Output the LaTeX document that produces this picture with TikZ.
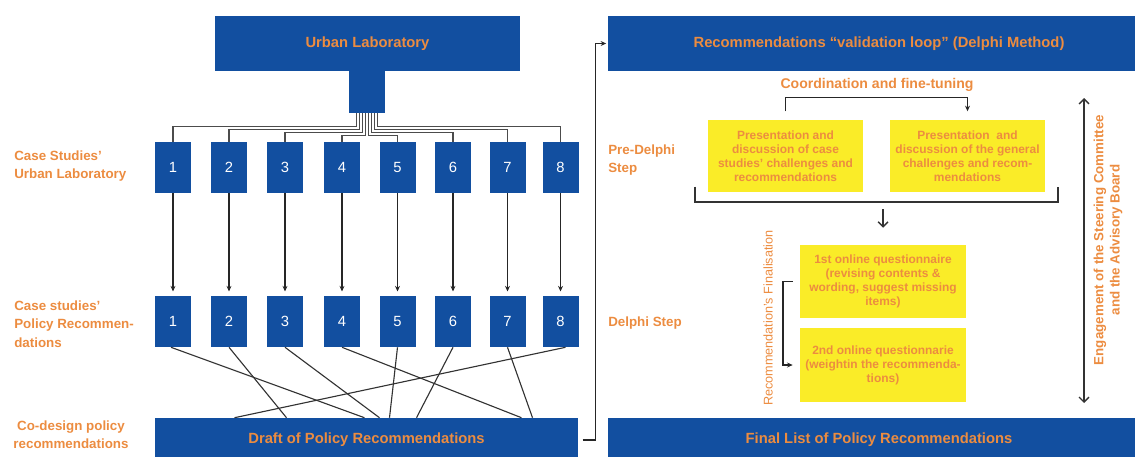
\documentclass[tikz,border=0pt]{standalone}
\usepackage{fontspec}
\setmainfont{Liberation Sans}
\usetikzlibrary{arrows.meta,calc}
\definecolor{ublue}{RGB}{18,79,160}
\definecolor{uorange}{RGB}{236,140,64}
\definecolor{uyellow}{RGB}{250,236,40}
\tikzset{
  bluebox/.style={fill=ublue, inner sep=0pt, text=uorange, font=\bfseries\fontsize{10.5}{12}\selectfont},
  numbox/.style={fill=ublue, inner sep=0pt, minimum width=0.9cm, minimum height=1.275cm, text=white, font=\fontsize{10.5}{12}\selectfont},
  notebox/.style={fill=uyellow, inner sep=0pt, align=center, text=uorange, font=\bfseries\fontsize{8.5}{10}\selectfont},
  rowlbl/.style={anchor=west, align=left, inner sep=0pt, text=uorange, font=\bfseries\fontsize{9.5}{13}\selectfont},
  link/.style={draw=black!80, line width=1pt},
  fan/.style={draw=black!70, line width=0.8pt},
  arr/.style={-{Stealth[length=4pt,width=3.5pt]}, draw=black!85, line width=1pt},
  open/.style={-{Straight Barb[length=3.5pt,width=7pt]}, draw=black!80, line width=1pt},
  both/.style={{Straight Barb[length=3.5pt,width=7pt]}-{Straight Barb[length=3.5pt,width=7pt]}, draw=black!80, line width=1pt},
}

\begin{document}
\begin{tikzpicture}[x=0.025cm, y=-0.025cm]
\useasboundingbox (0,0) rectangle (1135,456);

% --- urban laboratory + case studies ---
\node[bluebox, minimum width=7.625cm, minimum height=1.375cm] (lab) at (367.5,43.5) {Urban Laboratory};
\node[bluebox, minimum width=0.9cm, minimum height=1.05cm] (stem) at (367,92) {};

\foreach \i/\x in {1/173, 2/229, 3/285, 4/342, 5/397.5, 6/453, 7/507.5, 8/560.5} {
  \node[numbox] (u\i) at (\x,167.5) {\i};
  \node[numbox] (p\i) at (\x,321.5) {\i};
  \draw[arr, shorten >=3pt] (u\i) -- (p\i);
}

% bundle of lines out of the stem
\foreach \i/\o/\d in {1/-10.5/13, 2/-7.5/16, 3/-4.5/19, 4/-1.5/22, 5/1.5/22, 6/4.5/19, 7/7.5/16, 8/10.5/13}
  \draw[fan] ($(stem.south)+(\o,0)$) -- ++(0,\d) -| (u\i.north);

\node[bluebox, minimum width=10.575cm, minimum height=1.1cm] (draft) at (366.5,440) {Draft of Policy Recommendations};

% every case feeds the common draft
\foreach \i/\s/\e in {1/-2/-2, 2/0/-80, 3/0/13, 4/0/155, 5/0/23, 6/0/50, 7/0/166, 8/5/-132}
  \draw[link, line width=0.8pt] ($(p\i.south)+(\s,0)$) -- ($(draft.north)+(\e,0)$);

\node[rowlbl] (lblu) at (14,166) {Case Studies'\\Urban Laboratory};
\node[rowlbl] (lblp) at (14,324) {Case studies'\\Policy Recommen-\\dations};
\node[rowlbl, anchor=center, align=center] (lblc) at (71,435) {Co-design policy\\recommendations};

% --- delphi validation loop ---
\node[bluebox, minimum width=13.55cm, minimum height=1.375cm] (valid) at (879,43.5) {Recommendations ``validation loop'' (Delphi Method)};
\node[bluebox, minimum width=13.55cm, minimum height=1.1cm] (final) at (879,440) {Final List of Policy Recommendations};

\draw[arr, shorten >=1pt] ([xshift=3pt]draft.east) -- ++(9pt,0) |- (valid.west);

\node[rowlbl] (pre) at (608,160) {Pre-Delphi\\Step};
\node[rowlbl] (dstep) at (608,323) {Delphi Step};

\node[text=uorange, font=\bfseries\fontsize{10}{12}\selectfont] (coord) at (877,85) {Coordination and fine-tuning};

\node[notebox, minimum width=3.875cm, minimum height=1.8cm] (y1) at (785.5,156) {Presentation and\\discussion of case\\studies' challenges and\\recommendations};
\node[notebox, minimum width=3.875cm, minimum height=1.8cm] (y2) at (967.5,156) {Presentation~~and\\discussion of the general\\challenges and recom-\\mendations};

\draw[arr] ([yshift=6pt]y1.north) -- ([yshift=16pt]y1.north) -| ([yshift=6pt]y2.north);
\draw[link] ([xshift=-9pt,yshift=4pt]y1.south west) -- ++(0,-11pt) -| ([xshift=9pt,yshift=4pt]y2.south east);

\node[notebox, minimum width=4.15cm, minimum height=1.83cm] (q1) at (883,281.5) {1st online questionnaire\\(revising contents \&\\wording, suggest missing\\items)};
\node[notebox, minimum width=4.15cm, minimum height=1.85cm] (q2) at (883,365) {2nd online questionnarie\\(weightin the recommenda-\\tions)};

\draw[open] ([yshift=25pt]q1.north) -- ([yshift=12pt]q1.north);
\draw[arr] ([xshift=-5pt]q1.west) -- ++(-7pt,0) |- ([xshift=-5pt]q2.west);

\node[rotate=90, text=uorange, font=\fontsize{9}{11}\selectfont] (fin) at (768,318) {Recommendation's Finalisation};

% steering committee / advisory board
\coordinate (engtop) at (1084,98);
\coordinate (engbot) at (1084,403);
\draw[both] (engtop) -- (engbot);
\node[rotate=90, align=center, text=uorange, font=\bfseries\fontsize{9.5}{11.5}\selectfont] (eng) at (1108,240) {Engagement of the Steering Committee\\and the Advisory Board};
\end{tikzpicture}
\end{document}
